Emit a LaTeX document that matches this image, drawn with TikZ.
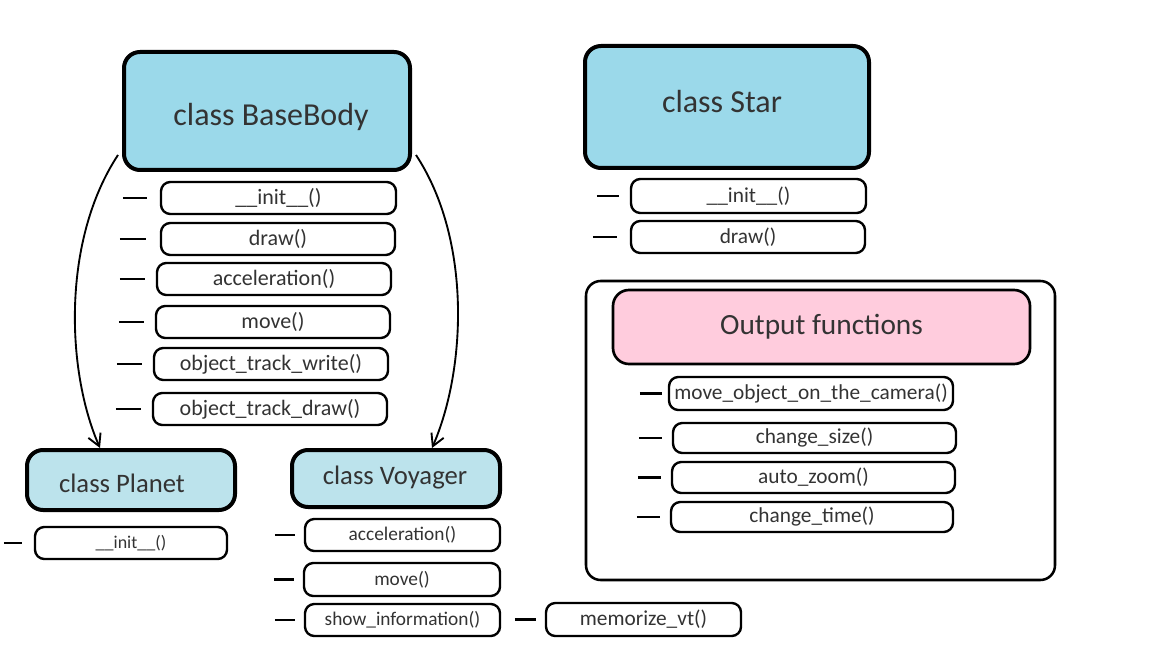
\documentclass[tikz,border=0pt]{standalone}
\usepackage{fontspec}
\setmainfont{Carlito}
\usetikzlibrary{arrows.meta}
\definecolor{txt}{HTML}{333333}
\definecolor{bluebig}{HTML}{9BD9EA}
\definecolor{bluesmall}{HTML}{BCE3EC}
\definecolor{pinkfill}{HTML}{FFCCDD}
\tikzset{
  sz/.style 2 args={minimum width={#1*0.75pt}, minimum height={#2*0.75pt}},
  fs/.style={font=\fontsize{#1}{#1}\selectfont},
  titlebox/.style={draw=black, line width=3pt, rounded corners=12pt, inner sep=0pt, text=txt},
  methbox/.style={draw=black, line width=1.8pt, rounded corners=7pt, inner sep=0pt, text=txt, fill=white},
  groupbox/.style={draw=black, line width=1.9pt, rounded corners=11pt, inner sep=0pt},
  tick/.style={line width=2pt, black},
  inh/.style={line width=1.4pt, -{Straight Barb[length=9pt, width=10pt, line width=1.4pt]}},
}
\begin{document}
\begin{tikzpicture}[x=0.75pt, y=-0.75pt]
\useasboundingbox (0,0) rectangle (1152,648);

% BaseBody
\node[titlebox, fill=bluebig, sz={286}{118}] (bb) at (267,111) {};
\node[text=txt, fs=24] (bbt) at (271,117) {class BaseBody};
\begin{scope}[every node/.append style={fs=16.5}]
\node[methbox, sz={235}{32}] (b1) at (278.5,198) {\_\_init\_\_()};
\node[methbox, sz={234}{32}] (b2) at (278,239) {draw()};
\node[methbox, sz={234}{32}] (b3) at (274,279) {acceleration()};
\node[methbox, sz={234}{32}] (b4) at (273,322) {move()};
\node[methbox, sz={234}{32}] (b5) at (271,364) {object\_track\_write()};
\node[methbox, sz={234}{32}] (b6) at (270,409) {object\_track\_draw()};
\end{scope}
\draw[tick] ([xshift=-37*0.75pt]b1.west) -- ++(24,0);
\draw[tick] ([xshift=-40*0.75pt]b2.west) -- ++(26,0);
\draw[tick] ([xshift=-36*0.75pt]b3.west) -- ++(25,0);
\draw[tick] ([xshift=-36*0.75pt]b4.west) -- ++(25,0);
\draw[tick] ([xshift=-36*0.75pt]b5.west) -- ++(25,0);
\draw[tick] ([xshift=-36*0.75pt]b6.west) -- ++(25,0);

% Planet
\node[titlebox, fill=bluesmall, sz={208}{60}] (pl) at (131,480) {};
\node[text=txt, fs=20] (plt) at (122,483) {class Planet};
\node[methbox, fs=13.5, sz={192}{32}] (p1) at (131,543) {\_\_init\_\_()};
\draw[tick] ([xshift=-30*0.75pt]p1.west) -- ++(18,0);

% Voyager
\node[titlebox, fill=bluesmall, sz={208}{57}] (vo) at (396,478.5) {};
\node[text=txt, fs=20] (vot) at (395,478) {class Voyager};
\begin{scope}[every node/.append style={fs=14.5}]
\node[methbox, sz={195}{32}] (v1) at (402.5,535) {acceleration()};
\node[methbox, sz={196}{33}] (v2) at (402,579.5) {move()};
\node[methbox, sz={195}{32}] (v3) at (402.5,620) {show\_information()};
\end{scope}
\node[methbox, fs=16, sz={195}{33}] (v4) at (643.5,619.5) {memorize\_vt()};
\draw[tick] ([xshift=-29*0.75pt]v1.west) -- ++(20,0);
\draw[tick] ([xshift=-29*0.75pt]v2.west) -- ++(20,0);
\draw[tick] ([xshift=-29*0.75pt]v3.west) -- ++(20,0);
\draw[tick] ([xshift=-30*0.75pt]v4.west) -- ++(21,0);

% inheritance arrows
\coordinate (bbl) at ([shift={(-4,44)}]bb.west);
\coordinate (bbr) at ([shift={(4,44)}]bb.east);
\coordinate (plin) at ([xshift=-31*0.75pt]pl.north);
\coordinate (voin) at ([xshift=36*0.75pt]vo.north);
\draw[inh] (bbl) .. controls (62,240) and (66,370) .. (plin);
\draw[inh] (bbr) .. controls (472,240) and (466,370) .. (voin);

% Star
\node[titlebox, fill=bluebig, sz={284}{122}] (st) at (727,107) {};
\node[text=txt, fs=24] (stt) at (722,102) {class Star};
\begin{scope}[every node/.append style={fs=16}]
\node[methbox, sz={235}{34}] (s1) at (748.5,196) {\_\_init\_\_()};
\node[methbox, sz={234}{32}] (s2) at (748,237) {draw()};
\end{scope}
\draw[tick] ([xshift=-33*0.75pt]s1.west) -- ++(22,0);
\draw[tick] ([xshift=-37*0.75pt]s2.west) -- ++(24,0);

% Output functions group
\node[groupbox, sz={469}{299}] (og) at (820.5,430.5) {};
\node[titlebox, line width=2pt, fill=pinkfill, fs=22, sz={417}{74}] (of) at (821.5,327) {Output functions};
\begin{scope}[every node/.append style={fs=16}]
\node[methbox, sz={284}{33}] (o1) at (811,393.5) {move\_object\_on\_the\_camera()};
\node[methbox, sz={283}{30}] (o2) at (814.5,438) {change\_size()};
\node[methbox, sz={283}{31}] (o3) at (813.5,477.5) {auto\_zoom()};
\node[methbox, sz={282}{30}] (o4) at (812,517) {change\_time()};
\end{scope}
\draw[tick] ([xshift=-28*0.75pt]o1.west) -- ++(22,0);
\draw[tick] ([xshift=-33*0.75pt]o2.west) -- ++(23,0);
\draw[tick] ([xshift=-33*0.75pt]o3.west) -- ++(23,0);
\draw[tick] ([xshift=-33*0.75pt]o4.west) -- ++(23,0);
\end{tikzpicture}
\end{document}
